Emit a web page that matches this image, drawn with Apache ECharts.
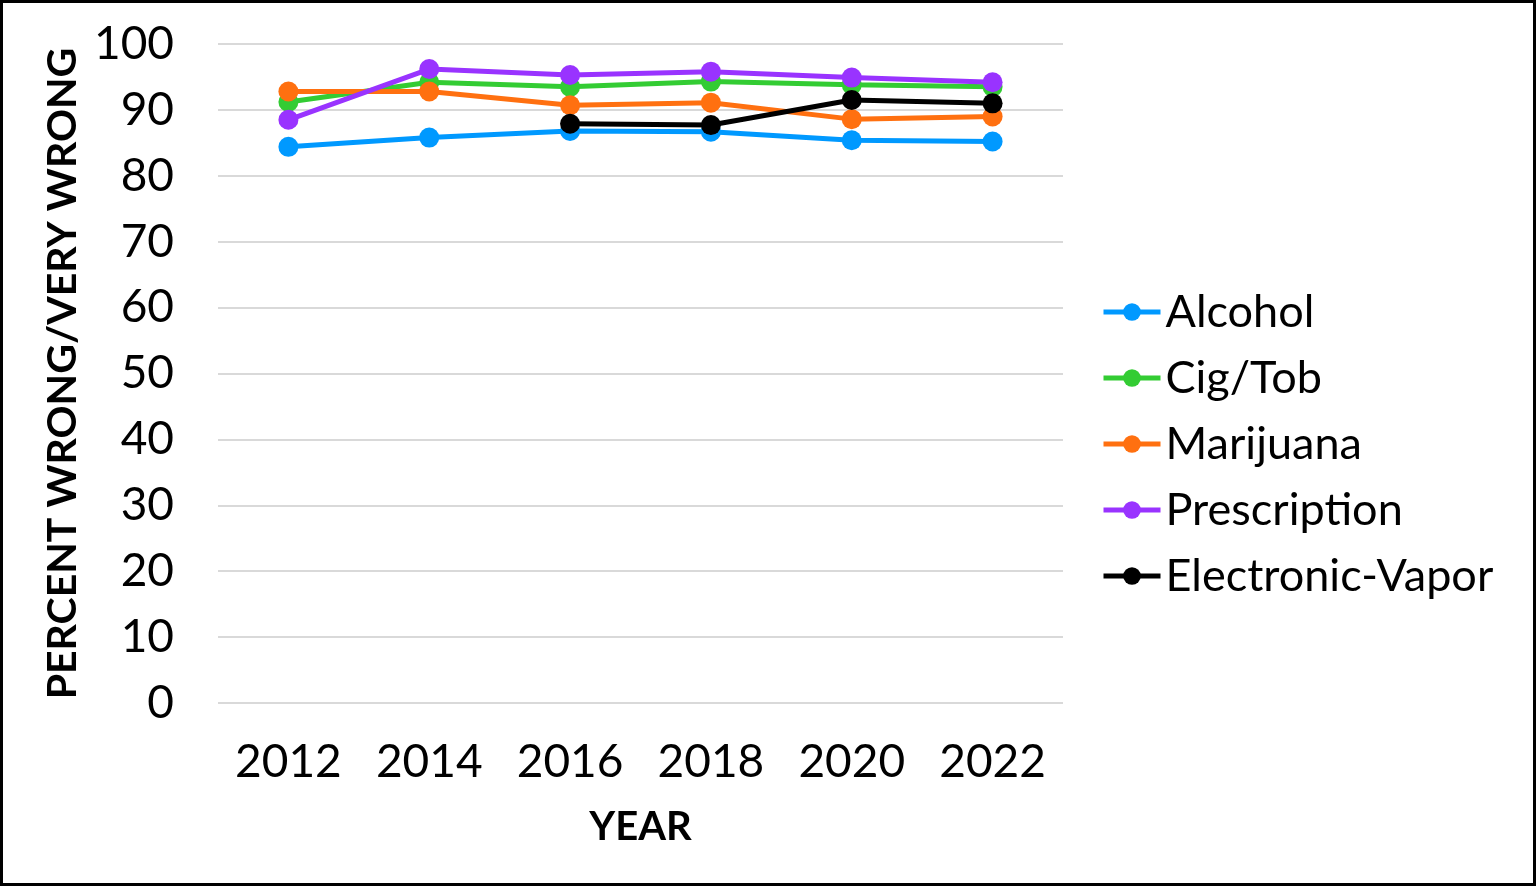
<!DOCTYPE html>
<html><head><meta charset="utf-8">
<script src="https://cdn.jsdelivr.net/npm/echarts@6/dist/echarts.min.js"></script>
<style>
html,body{margin:0;padding:0;background:#fff;}
#c{width:1536px;height:886px;box-sizing:border-box;border:3px solid #000;}
</style></head><body>
<div id="c"></div>
<script>
var years = ['2012','2014','2016','2018','2020','2022'];
var alcohol = [84.4, 85.8, 86.8, 86.7, 85.4, 85.2];
var cigTob = [91.2, 94.2, 93.5, 94.3, 93.8, 93.5];
var marijuana = [92.8, 92.8, 90.7, 91.1, 88.6, 89.0];
var prescription = [88.5, 96.2, 95.3, 95.8, 94.9, 94.2];
var vapor = [null, null, 87.9, 87.7, 91.5, 91.0];
var yTicks = [0, 10, 20, 30, 40, 50, 60, 70, 80, 90, 100];

var FONT = 'Lato';
function mk(name, data, color) {
  return {
    name: name, type: 'line', data: data,
    symbol: 'circle', symbolSize: 20,
    lineStyle: {width: 5, color: color},
    itemStyle: {color: color},
    connectNulls: false
  };
}
var chart = echarts.init(document.getElementById('c'));
chart.setOption({
  animation: false,
  backgroundColor: '#fff',
  textStyle: {fontFamily: FONT},
  grid: {left: 215, right: 470, top: 41, bottom: 180, containLabel: false},
  legend: {
    orient: 'vertical', left: 1093, top: 281,
    itemWidth: 57, itemHeight: 22, itemGap: 20,
    lineStyle: {width: 5},
    textStyle: {fontFamily: FONT, fontSize: 45, lineHeight: 46, color: '#000'},
    data: ['Alcohol','Cig/Tob','Marijuana','Prescription','Electronic-Vapor']
  },
  xAxis: {
    type: 'category', data: years, boundaryGap: true,
    axisLine: {show: false}, axisTick: {show: false},
    axisLabel: {fontFamily: FONT, fontSize: 46, color: '#000', margin: 36},
    name: 'YEAR', nameLocation: 'middle', nameGap: 104,
    nameTextStyle: {fontFamily: FONT, fontSize: 40, fontWeight: 'bold', color: '#000'}
  },
  yAxis: {
    type: 'value', min: 0, max: 100, interval: 10,
    axisLine: {show: false}, axisTick: {show: false},
    axisLabel: {fontFamily: FONT, fontSize: 46, color: '#000', margin: 44,
      formatter: function(v){ return yTicks.indexOf(v) >= 0 ? String(v) : ''; }},
    splitLine: {lineStyle: {color: '#d9d9d9', width: 2}},
    name: 'PERCENT WRONG/VERY WRONG', nameLocation: 'middle', nameGap: 133, nameRotate: 90,
    nameTextStyle: {fontFamily: FONT, fontSize: 41, fontWeight: 'bold', color: '#000'}
  },
  series: [
    mk('Alcohol', alcohol, '#0099ff'),
    mk('Cig/Tob', cigTob, '#33cc33'),
    mk('Marijuana', marijuana, '#ff7010'),
    mk('Prescription', prescription, '#9933ff'),
    mk('Electronic-Vapor', vapor, '#000000')
  ]
});
</script>
</body></html>
